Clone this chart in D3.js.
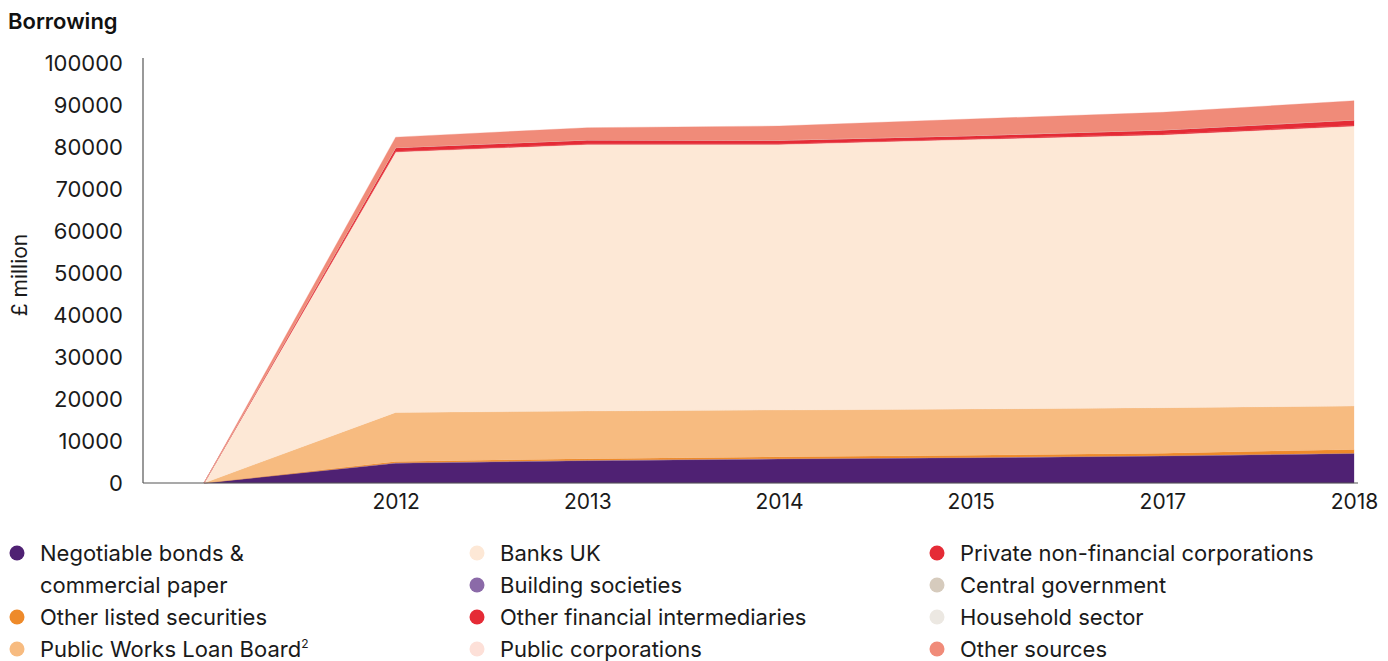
<!DOCTYPE html>
<html>
<head>
<meta charset="utf-8">
<script src="https://cdn.jsdelivr.net/npm/d3@7"></script>
<style>
  body { margin: 0; background: #fff; }
  svg { font-family: Inter, Lato, sans-serif; }
</style>
</head>
<body>
<svg width="1388" height="661"></svg>
<script>
// categories (first point is the unlabelled zero start)
var years = ["", "2012", "2013", "2014", "2015", "2017", "2018"];
var yTicks = [0, 10000, 20000, 30000, 40000, 50000, 60000, 70000, 80000, 90000, 100000];

// series values, £ million
var negotiable = [0, 4700, 5300, 5700, 6000, 6400, 7000];
var buildingSoc = [0, 100, 100, 100, 100, 100, 100];
var otherListed = [0, 300, 400, 450, 500, 600, 900];
var pwlb = [0, 11700, 11340, 11130, 11020, 10830, 10330];
var banksUK = [0, 62050, 63500, 63260, 64210, 65000, 66670];
var ofi = [0, 150, 150, 150, 150, 150, 200];
var publicCorp = [0, 0, 0, 0, 0, 0, 0];
var pnfc = [0, 850, 880, 810, 710, 970, 1230];
var centralGov = [0, 0, 0, 0, 0, 0, 0];
var household = [0, 0, 0, 0, 0, 0, 0];
var otherSources = [0, 2500, 2930, 3400, 3980, 4210, 4590];

var series = [
  {key: "neg", name: "Negotiable bonds &\ncommercial paper", values: negotiable, color: "#4f2173"},
  {key: "ols", name: "Other listed securities", values: otherListed, color: "#ee8a2a"},
  {key: "pwlb", name: "Public Works Loan Board", sup: "2", values: pwlb, color: "#f7bb80"},
  {key: "banks", name: "Banks UK", values: banksUK, color: "#fde8d6"},
  {key: "bs", name: "Building societies", values: buildingSoc, color: "#8b6aa8"},
  {key: "ofi", name: "Other financial intermediaries", values: ofi, color: "#e52b36"},
  {key: "pc", name: "Public corporations", values: publicCorp, color: "#fde0d8"},
  {key: "pnfc", name: "Private non-financial corporations", values: pnfc, color: "#e52b36"},
  {key: "cg", name: "Central government", values: centralGov, color: "#d6cbbd"},
  {key: "hh", name: "Household sector", values: household, color: "#ece8e2"},
  {key: "other", name: "Other sources", values: otherSources, color: "#f08b79"}
];
// stacking order as drawn (building societies sits just over the bonds)
var stackOrder = ["neg", "bs", "ols", "pwlb", "banks", "pc", "ofi", "pnfc", "cg", "hh", "other"];

var svg = d3.select("svg");
var byKey = {};
series.forEach(function(s) { byKey[s.key] = s; });

var rows = years.map(function(y, i) {
  var r = {year: y};
  series.forEach(function(s) { r[s.key] = s.values[i]; });
  return r;
});

var x = d3.scalePoint().domain(years).range([204, 1354]);
var y = d3.scaleLinear().domain([0, 100000]).range([483, 63]);

var stacked = d3.stack().keys(stackOrder)(rows);

var area = d3.area()
  .x(function(d) { return x(d.data.year); })
  .y0(function(d) { return y(d[0]); })
  .y1(function(d) { return y(d[1]); });

svg.append("g").selectAll("path")
  .data(stacked)
  .enter().append("path")
  .attr("d", area)
  .attr("fill", function(d) { return byKey[d.key].color; })
  .attr("stroke", function(d) { return byKey[d.key].color; })
  .attr("stroke-width", 0.3);

// axes
var gy = svg.append("g").attr("transform", "translate(143,0)")
  .call(d3.axisLeft(y).tickValues(yTicks).tickSize(0).tickPadding(20).tickFormat(d3.format("d")));
gy.select(".domain").attr("stroke", "#555").attr("stroke-width", 1.2).attr("d", "M0,58V483");
gy.selectAll("text").attr("font-size", 22).attr("fill", "#1a1a1a").attr("font-family", "Inter, sans-serif");

var gx = svg.append("g").attr("transform", "translate(0,483)")
  .call(d3.axisBottom(x).tickSize(0).tickPadding(11));
gx.select(".domain").attr("stroke", "#555").attr("stroke-width", 1.2).attr("d", "M143,0H1358");
gx.selectAll("text").attr("font-size", 21).attr("fill", "#1a1a1a").attr("font-family", "Inter, sans-serif");

svg.append("text").attr("x", 8).attr("y", 29)
  .attr("font-size", 22).attr("font-weight", 600).attr("fill", "#111")
  .text("Borrowing");

svg.append("text")
  .attr("transform", "translate(27,275) rotate(-90)")
  .attr("text-anchor", "middle").attr("font-size", 21).attr("fill", "#1a1a1a")
  .text("£ million");

// legend: three columns
var legendLayout = [
  {key: "neg", col: 0, row: 0}, {key: "ols", col: 0, row: 2}, {key: "pwlb", col: 0, row: 3},
  {key: "banks", col: 1, row: 0}, {key: "bs", col: 1, row: 1}, {key: "ofi", col: 1, row: 2}, {key: "pc", col: 1, row: 3},
  {key: "pnfc", col: 2, row: 0}, {key: "cg", col: 2, row: 1}, {key: "hh", col: 2, row: 2}, {key: "other", col: 2, row: 3}
];
var colX = [17, 477, 937], rowY0 = 553, rowH = 32;

var leg = svg.append("g").selectAll("g")
  .data(legendLayout)
  .enter().append("g")
  .attr("transform", function(d) { return "translate(" + colX[d.col] + "," + (rowY0 + d.row * rowH) + ")"; });

leg.append("circle").attr("r", 7.5)
  .attr("fill", function(d) { return byKey[d.key].color; });

leg.each(function(d) {
  var s = byKey[d.key];
  var t = d3.select(this).append("text")
    .attr("x", 23).attr("y", 8)
    .attr("font-size", 22).attr("fill", "#1a1a1a");
  s.name.split("\n").forEach(function(line, i) {
    t.append("tspan").attr("x", 23).attr("dy", i ? rowH : 0).text(line);
  });
  if (s.sup) t.append("tspan").attr("font-size", 12).attr("dy", -9).text(s.sup);
});
</script>
</body>
</html>
